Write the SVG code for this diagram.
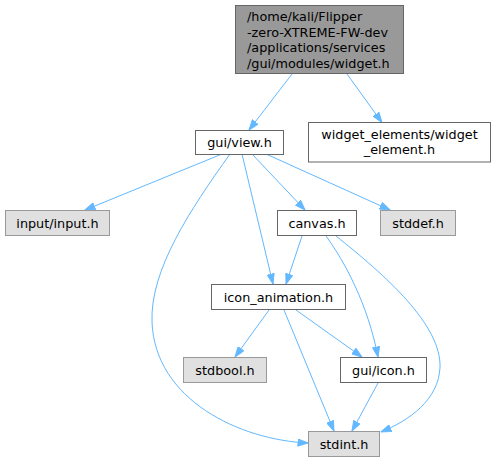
<svg xmlns="http://www.w3.org/2000/svg" width="497" height="461" viewBox="0 0 497 461">
<defs>
<marker id="ah" markerWidth="11" markerHeight="8" refX="10.5" refY="4" orient="auto" markerUnits="userSpaceOnUse">
<path d="M0.5,0.5 L10.5,4 L0.5,7.5 z" fill="#63b8ff" stroke="#63b8ff" stroke-width="1"/>
</marker>
</defs>
<style>
.n rect{fill:#ffffff;stroke:#666666;stroke-width:1}
.g rect{fill:#e0e0e0;stroke:#999999;stroke-width:1}
.top rect{fill:#999999;stroke:#666666;stroke-width:1}
text{font-family:"DejaVu Sans","Liberation Sans",sans-serif;font-size:12.8px;fill:#000000;text-anchor:middle}
.top text{text-anchor:start}
.e path{fill:none;stroke:#63b8ff;stroke-width:1;marker-end:url(#ah)}
</style>
<rect width="497" height="461" fill="#ffffff"/>
<g id="edges" class="e">
<path d="M292,74 L249,130"/>
<path d="M347,74 L382,122.5"/>
<path d="M222,154 L85,210"/>
<path d="M230,154 C190,210 150,270 152,322 C155,400 240,440 308,443"/>
<path d="M242,154 L273,284"/>
<path d="M252,154 L305,210"/>
<path d="M266,154 L390,210"/>
<path d="M302,236 L286,284"/>
<path d="M326,236 C345,262 368,305 378,357"/>
<path d="M336,236 C385,275 442,325 440,368 C438,400 410,420 381,432"/>
<path d="M269,310 L235,357"/>
<path d="M284,310 L334,431"/>
<path d="M296,310 L362,357"/>
<path d="M378,383 L352,431"/>
</g>
<g id="node-widget" class="top">
<rect x="235.5" y="5.5" width="168" height="68"/>
<text x="247" y="21">/home/kali/Flipper</text>
<text x="247" y="36.5">-zero-XTREME-FW-dev</text>
<text x="247" y="52">/applications/services</text>
<text x="247" y="67.5">/gui/modules/widget.h</text>
</g>
<g id="node-view" class="n">
<rect x="195.5" y="130.5" width="88" height="24"/>
<text x="239.5" y="147">gui/view.h</text>
</g>
<g id="node-widget-element" class="n">
<rect x="308.5" y="122.5" width="182" height="39.5"/>
<text x="399.5" y="138.5">widget_elements/widget</text>
<text x="399.5" y="154">_element.h</text>
</g>
<g id="node-input" class="g">
<rect x="5.5" y="210.5" width="104" height="25"/>
<text x="57.5" y="227.5">input/input.h</text>
</g>
<g id="node-canvas" class="n">
<rect x="277.5" y="210.5" width="79" height="25"/>
<text x="317" y="227.5">canvas.h</text>
</g>
<g id="node-stddef" class="g">
<rect x="380.5" y="210.5" width="75" height="25"/>
<text x="418" y="227.5">stddef.h</text>
</g>
<g id="node-icon-animation" class="n">
<rect x="211.5" y="284.5" width="134" height="25"/>
<text x="278.5" y="301.5">icon_animation.h</text>
</g>
<g id="node-stdbool" class="g">
<rect x="183.5" y="357.5" width="83" height="25"/>
<text x="225" y="374.5">stdbool.h</text>
</g>
<g id="node-icon" class="n">
<rect x="340.5" y="357.5" width="86" height="25"/>
<text x="383.5" y="374.5">gui/icon.h</text>
</g>
<g id="node-stdint" class="g">
<rect x="308.5" y="431.5" width="71" height="25"/>
<text x="344" y="448.5">stdint.h</text>
</g>
</svg>
